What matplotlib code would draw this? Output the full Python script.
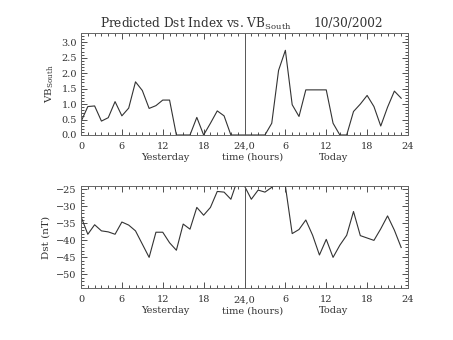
import matplotlib
matplotlib.use("Agg")
import matplotlib.pyplot as plt
from matplotlib.ticker import MultipleLocator, FixedLocator
import matplotlib.transforms as mtransforms
import numpy as np

hours = list(range(48))
vb_south = [0.43, 0.92, 0.94, 0.45, 0.56, 1.08, 0.62, 0.87, 1.72, 1.44, 0.86, 0.95,
            1.13, 1.13, 0.0, 0.0, 0.0, 0.57, 0.0, 0.38, 0.78, 0.62, 0.0, 0.0,
            0.0, 0.0, 0.0, 0.0, 0.38, 2.09, 2.74, 0.98, 0.60, 1.46, 1.46, 1.46,
            1.46, 0.38, 0.0, 0.0, 0.76, 1.00, 1.28, 0.92, 0.29, 0.90, 1.42, 1.19]
dst = [-33.0, -38.2, -35.4, -37.2, -37.5, -38.2, -34.6, -35.5, -37.2, -41.1, -45.0, -37.6,
       -37.6, -40.7, -42.9, -35.2, -36.7, -30.3, -32.6, -30.3, -25.6, -25.8, -27.9, -22.0,
       -24.0, -27.9, -25.2, -25.8, -24.4, -22.5, -24.0, -38.0, -36.8, -34.0, -38.5, -44.3,
       -39.7, -45.0, -41.4, -38.5, -31.5, -38.6, -39.3, -40.0, -36.6, -32.8, -37.0, -42.1]
xtick_pos = [0, 6, 12, 18, 24, 30, 36, 42, 48]
xtick_labels = ["0", "6", "12", "18", "24,0", "6", "12", "18", "24"]
title_main = r"Predicted Dst Index vs. VB$_{\mathregular{South}}$"
title_date = "10/30/2002"

plt.rcParams['font.family'] = 'DejaVu Serif'
plt.rcParams['mathtext.fontset'] = 'dejavuserif'

W, H = 453, 340
fig = plt.figure(figsize=(W / 100, H / 100), dpi=100)
col = '#333333'
fs = 7

def style(ax):
    ax.set_xlim(0, 48)
    ax.xaxis.set_major_locator(FixedLocator(xtick_pos))
    ax.xaxis.set_minor_locator(MultipleLocator(1))
    ax.set_xticklabels(xtick_labels)
    ax.tick_params(which='both', direction='in', top=True, right=True, colors=col,
                   labelsize=fs, width=0.6)
    ax.tick_params(which='major', length=4)
    ax.tick_params(axis='x', which='major', pad=5)
    ax.tick_params(axis='y', which='major', pad=3)
    ax.tick_params(which='minor', length=2)
    for s in ax.spines.values():
        s.set_color('#666666')
        s.set_linewidth(0.7)
    ax.axvline(24, color='#555555', lw=0.7)
    trans = mtransforms.blended_transform_factory(ax.transData, ax.transAxes)
    for xx, t in [(12.3, "Yesterday"), (25.2, "time (hours)"), (37.1, "Today")]:
        ax.text(xx, -24.8 / 102, t, transform=trans, ha='center', va='baseline',
                fontsize=fs, color=col)

ax1 = fig.add_axes([81 / W, 1 - 135 / H, 327 / W, 102 / H])
ax1.plot(hours, vb_south, color=col, lw=0.8)
ax1.set_ylim(0, 3.3)
ax1.yaxis.set_major_locator(MultipleLocator(0.5))
ax1.yaxis.set_minor_locator(MultipleLocator(0.1))
ax1.yaxis.set_major_formatter(matplotlib.ticker.FormatStrFormatter('%.1f'))
style(ax1)
ax1.set_ylabel(r"VB$_{\mathregular{South}}$", fontsize=fs + 0.5, color=col, labelpad=4)

ax2 = fig.add_axes([81 / W, 1 - 288.3 / H, 327 / W, 102.3 / H])
ax2.plot(hours, dst, color=col, lw=0.8)
ax2.set_ylim(-54.1, -24.0)
ax2.yaxis.set_major_locator(MultipleLocator(5))
ax2.yaxis.set_minor_locator(MultipleLocator(1))
style(ax2)
ax2.set_ylabel("Dst (nT)", fontsize=fs + 0.5, color=col, labelpad=4)

fig.text(100 / W, 1 - 27.5 / H, title_main, ha='left', va='baseline', fontsize=8.7, color=col)
fig.text(383 / W, 1 - 27.5 / H, title_date, ha='right', va='baseline', fontsize=8.7, color=col)

fig.savefig("out.png", dpi=100)
